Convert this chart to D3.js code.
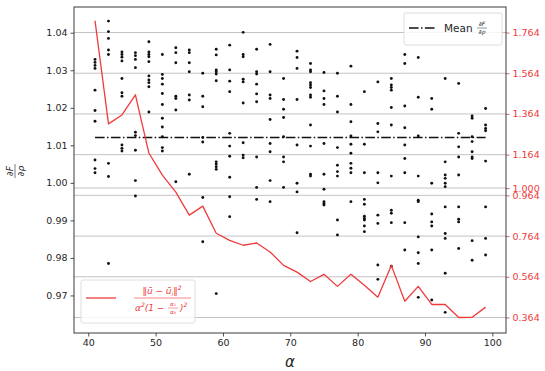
<!DOCTYPE html>
<html>
<head>
<meta charset="utf-8">
<script src="https://cdn.jsdelivr.net/npm/d3@7"></script>
<style>
  html, body { margin: 0; padding: 0; background: #fff; }
  svg { display: block; font-family: "DejaVu Sans", sans-serif; }
</style>
</head>
<body>
<svg id="chart" width="545" height="371"></svg>
<script>
// alpha values sampled (odd integers 41..99)
const alphas = [41,43,45,47,49,51,53,55,57,59,61,63,65,67,69,71,73,75,77,79,81,83,85,87,89,91,93,95,97,99];

// dF/drho samples for each alpha (left axis)
const samples = [
  [1.0329,1.0321,1.0313,1.0305,1.0247,1.0193,1.0164,1.0061,1.0038,1.0027],
  [1.0431,1.0403,1.0385,1.0354,1.0342,1.0052,1.0017,0.9785],
  [1.0349,1.0342,1.0335,1.0325,1.0278,1.0240,1.0231,1.0101,1.0092,1.0085],
  [1.0347,1.0339,1.0329,1.0307,1.0135,1.0126,1.0087,1.0006,0.9965],
  [1.0376,1.0349,1.0342,1.0336,1.0323,1.0285,1.0274,1.0267,1.0256,1.0189],
  [1.0342,1.0289,1.0278,1.0263,1.0238,1.0209,1.0172,1.0149,1.0123,1.0094,1.0085],
  [1.0360,1.0347,1.0320,1.0231,1.0225,1.0194,1.0003],
  [1.0354,1.0347,1.0320,1.0296,1.0234,1.0221,1.0023],
  [1.0292,1.0231,1.0203,1.0121,1.0109,0.9961,0.9843],
  [1.0356,1.0341,1.0301,1.0296,1.0290,1.0272,1.0056,1.0050,1.0043,1.0036,0.9705],
  [1.0367,1.0301,1.0271,1.0243,1.0132,1.0098,1.0071,1.0015,0.9963,0.9910],
  [1.0401,1.0342,1.0336,1.0276,1.0269,1.0213,1.0107,1.0074,1.0067],
  [1.0356,1.0296,1.0290,1.0263,1.0237,1.0216,1.0069,0.9988,0.9956],
  [1.0369,1.0296,1.0234,1.0225,1.0169,1.0105,1.0083,1.0006,0.9950],
  [1.0278,1.0222,1.0196,1.0174,1.0123,1.0069,1.0056,0.9988],
  [1.0351,1.0334,1.0305,1.0222,1.0101,0.9999,0.9976,0.9867],
  [1.0318,1.0301,1.0296,1.0267,1.0261,1.0254,1.0234,1.0228,1.0154,1.0098,1.0023,1.0018],
  [1.0294,1.0245,1.0225,1.0209,1.0105,1.0023,0.9983,0.9950,0.9945,0.9941],
  [1.0292,1.0231,1.0189,1.0094,1.0047,1.0030,1.0018,0.9901,0.9861],
  [1.0311,1.0209,1.0163,1.0125,1.0103,1.0079,1.0052,1.0039,1.0027,0.9950],
  [1.0243,1.0103,1.0027,0.9956,0.9943,0.9911,0.9905,0.9901,0.9885,0.9870],
  [1.0269,1.0158,1.0136,1.0027,1.0000,0.9914,0.9892,0.9781,0.9743],
  [1.0278,1.0261,1.0254,1.0247,1.0201,1.0154,1.0018,0.9927,0.9919,0.9894,0.9778],
  [1.0342,1.0318,1.0205,1.0147,1.0101,1.0065,1.0027,0.9894,0.9821],
  [1.0334,1.0228,1.0125,1.0018,0.9954,0.9950,0.9856,0.9814,0.9785,0.9695],
  [1.0225,1.0196,0.9999,0.9917,0.9896,0.9885,0.9821,0.9688],
  [1.0278,1.0056,1.0021,1.0012,0.9999,0.9990,0.9936,0.9865,0.9852,0.9759,0.9655],
  [1.0265,1.0132,1.0096,1.0069,1.0021,0.9936,0.9903,0.9896,0.9825],
  [1.0178,1.0172,1.0123,1.0110,1.0083,1.0069,1.0065,0.9846,0.9794],
  [1.0198,1.0154,1.0145,1.0139,1.0058,0.9936,0.9852,0.9808]
];

// mean of dF/drho
const meanValue = 1.0121;

// normalised error ratio per alpha (right axis)
const ratio = [1.822,1.315,1.359,1.458,1.172,1.063,0.980,0.867,0.911,0.778,0.743,0.719,0.730,0.686,0.620,
               0.587,0.541,0.576,0.517,0.576,0.522,0.464,0.620,0.444,0.517,0.428,0.428,0.364,0.365,0.415];

// tick values
const xTicks = [40,50,60,70,80,90,100];
const leftTicks = [0.97,0.98,0.99,1.00,1.01,1.02,1.03,1.04];
const rightTicks = [0.364,0.564,0.764,0.964,1.000,1.164,1.364,1.564,1.764];

const RED = "#ee3b3b";
const INK = "#262626";

const svg = d3.select("#chart");
const plot = { left: 74, top: 7, right: 506, bottom: 333 };

const x = d3.scaleLinear().domain([37.88, 102.03]).range([plot.left, plot.right]);
const yL = d3.scaleLinear().domain([0.96, 1.04686]).range([plot.bottom, plot.top]);
const yR = d3.scaleLinear().domain([0.2879, 1.8893]).range([plot.bottom, plot.top]);

// horizontal grid from the right-hand axis
svg.append("g").selectAll("line").data(rightTicks).join("line")
  .attr("x1", plot.left).attr("x2", plot.right)
  .attr("y1", d => yR(d)).attr("y2", d => yR(d))
  .attr("stroke", "#c4c4c4").attr("stroke-width", 1);

// scatter of samples
const pts = [];
alphas.forEach((a, i) => samples[i].forEach(v => pts.push({ a, v })));
svg.append("g").selectAll("circle").data(pts).join("circle")
  .attr("cx", d => x(d.a)).attr("cy", d => yL(d.v)).attr("r", 1.45)
  .attr("fill", "#111");

// mean line
svg.append("line")
  .attr("x1", x(alphas[0])).attr("x2", x(alphas[alphas.length - 1]))
  .attr("y1", yL(meanValue)).attr("y2", yL(meanValue))
  .attr("stroke", "#111").attr("stroke-width", 1.6)
  .attr("stroke-dasharray", "9.6,2.4,1.5,2.4");

// ratio curve
svg.append("path").datum(alphas.map((a, i) => [a, ratio[i]]))
  .attr("fill", "none").attr("stroke", RED).attr("stroke-width", 1.3)
  .attr("stroke-linejoin", "round")
  .attr("d", d3.line().x(d => x(d[0])).y(d => yR(d[1])));

// axes
const axL = svg.append("g").attr("transform", `translate(${plot.left},0)`)
  .call(d3.axisLeft(yL).tickValues(leftTicks).tickFormat(d3.format(".2f")).tickSize(3.5).tickPadding(3));
const axR = svg.append("g").attr("transform", `translate(${plot.right},0)`)
  .call(d3.axisRight(yR).tickValues(rightTicks).tickFormat(d3.format(".3f")).tickSize(3.5).tickPadding(3));
const axB = svg.append("g").attr("transform", `translate(0,${plot.bottom})`)
  .call(d3.axisBottom(x).tickValues(xTicks).tickFormat(d3.format("d")).tickSize(3.5).tickPadding(3));

[axL, axR, axB].forEach(g => {
  g.select(".domain").remove();
  g.selectAll("text").attr("font-size", 9.5).attr("font-family", "DejaVu Sans, sans-serif");
});
axL.selectAll("line").attr("stroke", INK).attr("stroke-width", 0.8);
axL.selectAll("text").attr("fill", INK);
axB.selectAll("line").attr("stroke", INK).attr("stroke-width", 0.8);
axB.selectAll("text").attr("fill", INK);
axR.selectAll("line").attr("stroke", RED).attr("stroke-width", 0.8);
axR.selectAll("text").attr("fill", RED);

// frame
svg.append("rect")
  .attr("x", plot.left).attr("y", plot.top)
  .attr("width", plot.right - plot.left).attr("height", plot.bottom - plot.top)
  .attr("fill", "none").attr("stroke", INK).attr("stroke-width", 0.9);

// x label
svg.append("text").attr("x", (plot.left + plot.right) / 2).attr("y", 367)
  .attr("text-anchor", "middle").attr("font-size", 15).attr("font-style", "italic")
  .attr("fill", INK).text("α");

// y label: rotated fraction dF/drho
const yl = svg.append("g").attr("transform", "translate(15,171) rotate(-90)");
yl.append("text").attr("x", 0).attr("y", -2.5).attr("text-anchor", "middle")
  .attr("font-size", 9).attr("font-style", "italic").attr("fill", INK).text("∂F");
yl.append("line").attr("x1", -7).attr("x2", 7).attr("y1", 0).attr("y2", 0)
  .attr("stroke", INK).attr("stroke-width", 0.6);
yl.append("text").attr("x", 0).attr("y", 8.5).attr("text-anchor", "middle")
  .attr("font-size", 9).attr("font-style", "italic").attr("fill", INK).text("∂ρ");

// legend: mean
const lg1 = svg.append("g");
lg1.append("rect").attr("x", 404).attr("y", 13).attr("width", 98).attr("height", 32)
  .attr("rx", 2).attr("fill", "rgba(255,255,255,0.85)").attr("stroke", "#d6d6d6").attr("stroke-width", 0.8);
lg1.append("line").attr("x1", 409).attr("x2", 435).attr("y1", 28).attr("y2", 28)
  .attr("stroke", "#111").attr("stroke-width", 1.6).attr("stroke-dasharray", "9.6,2.4,1.5,2.4");
lg1.append("text").attr("x", 444).attr("y", 32).attr("font-size", 10.5).attr("fill", INK).text("Mean");
lg1.append("text").attr("x", 482).attr("y", 26).attr("text-anchor", "middle")
  .attr("font-size", 6).attr("font-style", "italic").attr("fill", INK).text("∂F");
lg1.append("line").attr("x1", 477).attr("x2", 487).attr("y1", 28).attr("y2", 28)
  .attr("stroke", INK).attr("stroke-width", 0.5);
lg1.append("text").attr("x", 482).attr("y", 34).attr("text-anchor", "middle")
  .attr("font-size", 6).attr("font-style", "italic").attr("fill", INK).text("∂ρ");

// legend: ratio curve
const lg2 = svg.append("g");
lg2.append("rect").attr("x", 81).attr("y", 280).attr("width", 114).attr("height", 43)
  .attr("rx", 2).attr("fill", "rgba(255,255,255,0.85)").attr("stroke", "#d6d6d6").attr("stroke-width", 0.8);
lg2.append("line").attr("x1", 86).attr("x2", 116).attr("y1", 298).attr("y2", 298)
  .attr("stroke", RED).attr("stroke-width", 1.3);
const num = lg2.append("text").attr("x", 162).attr("y", 294).attr("text-anchor", "middle")
  .attr("font-size", 9).attr("fill", RED).attr("font-style", "italic");
num.append("tspan").text("‖ū − ū");
num.append("tspan").attr("font-size", 6).attr("dy", 2).text("i");
num.append("tspan").attr("dy", -2).text("‖");
num.append("tspan").attr("font-size", 6).attr("dy", -4).text("2");
lg2.append("line").attr("x1", 134).attr("x2", 191).attr("y1", 298).attr("y2", 298)
  .attr("stroke", RED).attr("stroke-width", 0.6);
const den = lg2.append("text").attr("x", 135).attr("y", 311)
  .attr("font-size", 9).attr("fill", RED).attr("font-style", "italic");
den.append("tspan").text("α");
den.append("tspan").attr("font-size", 6).attr("dy", -4).text("2");
den.append("tspan").attr("dy", 4).text("(1 − ");
lg2.append("text").attr("x", 173).attr("y", 306).attr("text-anchor", "middle")
  .attr("font-size", 5.5).attr("font-style", "italic").attr("fill", RED).text("α₁");
lg2.append("line").attr("x1", 168).attr("x2", 178).attr("y1", 308).attr("y2", 308)
  .attr("stroke", RED).attr("stroke-width", 0.5);
lg2.append("text").attr("x", 173).attr("y", 314).attr("text-anchor", "middle")
  .attr("font-size", 5.5).attr("font-style", "italic").attr("fill", RED).text("α₀");
const den2 = lg2.append("text").attr("x", 180).attr("y", 311)
  .attr("font-size", 9).attr("fill", RED).attr("font-style", "italic");
den2.append("tspan").text(")");
den2.append("tspan").attr("font-size", 6).attr("dy", -4).text("2");
</script>
</body>
</html>
